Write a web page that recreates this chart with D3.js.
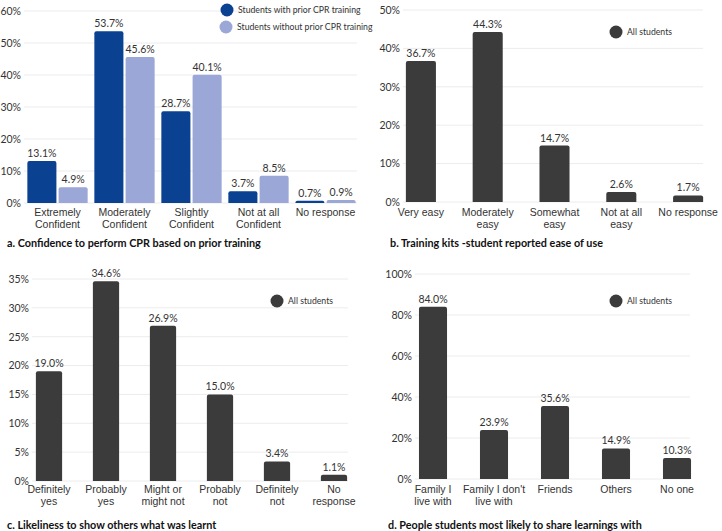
<!DOCTYPE html>
<html><head><meta charset="utf-8">
<script src="https://cdn.jsdelivr.net/npm/d3@7/dist/d3.min.js"></script>
<style>body{margin:0;background:#fff}svg{display:block;font-family:Lato,"Noto Sans",sans-serif}</style>
</head><body><svg id="c" width="722" height="531"></svg>
<script>
// ---- data ----
const catsA = ["Extremely\nConfident","Moderately\nConfident","Slightly\nConfident","Not at all\nConfident","No response"];
const seriesA = ["Students with prior CPR training","Students without prior CPR training"];
const withPrior = [13.1,53.7,28.7,3.7,0.7];
const withoutPrior = [4.9,45.6,40.1,8.5,0.9];
const ticksA = [0,10,20,30,40,50,60];

const catsB = ["Very easy","Moderately\neasy","Somewhat\neasy","Not at all\neasy","No response"];
const valsB = [36.7,44.3,14.7,2.6,1.7];
const ticksB = [0,10,20,30,40,50];

const catsC = ["Definitely\nyes","Probably\nyes","Might or\nmight not","Probably\nnot","Definitely\nnot","No\nresponse"];
const valsC = [19.0,34.6,26.9,15.0,3.4,1.1];
const ticksC = [0,5,10,15,20,25,30,35];

const catsD = ["Family I\nlive with","Family I don't\nlive with","Friends","Others","No one"];
const valsD = [84.0,23.9,35.6,14.9,10.3];
const ticksD = [0,20,40,60,80,100];

const legendAll = "All students";
const titles = ["a. Confidence to perform CPR based on prior training",
  "b. Training kits -student reported ease of  use",
  "c. Likeliness to show others what was learnt",
  "d. People students most likely to share learnings with"];

// ---- styles ----
const C1 = "#0b4191", C2 = "#9ba7d6", CG = "#3b3b3b", TXT = "#333", GRID = "#ececec";
const svg = d3.select("#c");

function topRounded(x, y, w, h, r){
  r = Math.min(r, h, w/2);
  return `M${x},${y+h}V${y+r}Q${x},${y} ${x+r},${y}H${x+w-r}Q${x+w},${y} ${x+w},${y+r}V${y+h}Z`;
}

function panel(cfg){
  const g = svg.append("g");
  const y = d3.scaleLinear().domain(cfg.domain).range(cfg.yr);
  const x = d3.scaleBand().domain(cfg.cats).range(cfg.xr).paddingInner(cfg.pad).paddingOuter(cfg.pad/2);
  // grid
  g.selectAll(".grid").data(cfg.ticks).join("line")
    .attr("x1", cfg.gx[0]).attr("x2", cfg.gx[1])
    .attr("y1", d=>y(d)).attr("y2", d=>y(d))
    .attr("stroke", GRID).attr("stroke-width",1);
  // y labels
  const ya = d3.axisLeft(y).tickValues(cfg.ticks).tickFormat(d=>d+"%").tickSize(0).tickPadding(0);
  const yg = g.append("g").attr("transform",`translate(${cfg.ylx},0)`).call(ya);
  yg.select(".domain").remove();
  yg.selectAll("text").attr("fill",TXT).style("font-size","10.5px").style("font-family","Lato,sans-serif");
  // bars
  cfg.series.forEach((s,si)=>{
    let bx, bw;
    if(cfg.series.length>1){
      const x1 = d3.scaleBand().domain(d3.range(cfg.series.length)).range([0,x.bandwidth()]).paddingInner(0.07);
      bx = c=>x(c)+x1(si); bw = x1.bandwidth();
    } else { bx = c=>x(c); bw = x.bandwidth(); }
    g.selectAll(null).data(s.vals.map((v,i)=>({v,c:cfg.cats[i]}))).join("path")
      .attr("d", d=>topRounded(bx(d.c), y(d.v), bw, y(0)-y(d.v), 2))
      .attr("fill", s.color);
    g.selectAll(null).data(s.vals.map((v,i)=>({v,c:cfg.cats[i]}))).join("text")
      .attr("x", d=>bx(d.c)+bw/2).attr("y", d=>y(d.v)-4)
      .attr("text-anchor","middle").attr("fill",TXT).style("font-size","10.5px")
      .text(d=>d.v.toFixed(1)+"%");
  });
  // x labels
  const xa = d3.axisBottom(x).tickSize(0).tickPadding(0).tickFormat("");
  const xg = g.append("g").attr("transform",`translate(0,${cfg.xly})`).call(xa);
  xg.select(".domain").remove();
  xg.selectAll(".tick").each(function(c){
    const t = d3.select(this).append("text").attr("text-anchor","middle").attr("fill",TXT).style("font-size","10.5px");
    c.split("\n").forEach((line,i)=>t.append("tspan").attr("x",0).attr("y",i*11.5).text(line));
  });
  // legend
  cfg.legend.forEach((l,i)=>{
    g.append("circle").attr("cx",l.cx).attr("cy",l.cy).attr("r",6.5).attr("fill",l.color);
    g.append("text").attr("x",l.cx+11).attr("y",l.cy+3.2).attr("fill",TXT).style("font-size","8.7px").text(l.text);
  });
  // title
  g.append("text").attr("x",cfg.tx).attr("y",cfg.ty).attr("fill","#111").style("font-size","10.8px").style("font-weight","bold").text(cfg.title);
}

panel({cats:catsA, domain:[0,60], yr:[203,11], ticks:ticksA, xr:[24,359], pad:0.1, gx:[24,357], ylx:21, xly:216,
  series:[{vals:withPrior,color:C1},{vals:withoutPrior,color:C2}],
  legend:[{cx:227,cy:10,color:C1,text:seriesA[0]},{cx:226,cy:27,color:C2,text:seriesA[1]}],
  title:titles[0], tx:7, ty:247});
panel({cats:catsB, domain:[0,50], yr:[202,10], ticks:ticksB, xr:[387.5,721.5], pad:0.55, gx:[403,703], ylx:400, xly:216,
  series:[{vals:valsB,color:CG}],
  legend:[{cx:616,cy:32,color:CG,text:legendAll}],
  title:titles[1], tx:390, ty:247});
panel({cats:catsC, domain:[0,35], yr:[481,279], ticks:ticksC, xr:[20.5,362.5], pad:0.54, gx:[32,348], ylx:29, xly:493,
  series:[{vals:valsC,color:CG}],
  legend:[{cx:277,cy:301,color:CG,text:legendAll}],
  title:titles[2], tx:7, ty:529});
panel({cats:catsD, domain:[0,100], yr:[479,274], ticks:ticksD, xr:[402.5,707.5], pad:0.54, gx:[415,690], ylx:412, xly:493,
  series:[{vals:valsD,color:CG}],
  legend:[{cx:616,cy:301,color:CG,text:legendAll}],
  title:titles[3], tx:388, ty:529});
</script></body></html>
